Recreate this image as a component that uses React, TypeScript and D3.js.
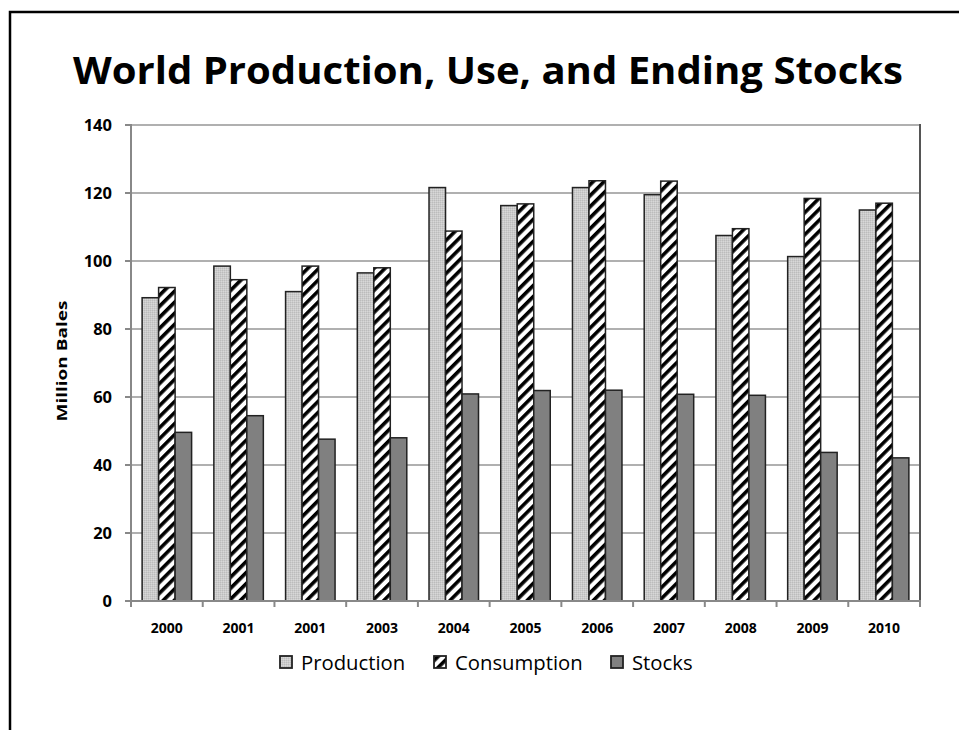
import React from "react";
import * as d3 from "d3";

const categories = ["2000", "2001", "2001", "2003", "2004", "2005", "2006", "2007", "2008", "2009", "2010"];
const production = [89.2, 98.5, 91, 96.5, 121.6, 116.3, 121.6, 119.5, 107.5, 101.3, 115];
const consumption = [92.2, 94.5, 98.5, 98, 108.8, 116.8, 123.6, 123.5, 109.5, 118.4, 117];
const stocks = [49.6, 54.5, 47.6, 48, 60.9, 61.9, 62, 60.8, 60.5, 43.7, 42.1];
const seriesNames = ["Production", "Consumption", "Stocks"];
const yTicks = [0, 20, 40, 60, 80, 100, 120, 140];

const W = 959, H = 730;
const left = 131, right = 920, top = 125, bottom = 601;
const FONT = "'Open Sans', sans-serif";

export default function App() {
  const x0 = d3.scaleBand<number>().domain(categories.map((_, i) => i)).range([left, right]).paddingInner(0.31).paddingOuter(0.155);
  const x1 = d3.scaleBand<string>().domain(seriesNames).range([0, x0.bandwidth()]);
  const y = d3.scaleLinear().domain([0, 140]).range([bottom, top]);
  const seriesData = [production, consumption, stocks];
  const fills = ["url(#prodPat)", "url(#consPat)", "#808080"];
  const boundaries = d3.range(categories.length + 1).map((i) => left + i * ((right - left) / categories.length));

  const legendItems = [
    { name: "Production", x: 280, fill: "url(#prodPat)" },
    { name: "Consumption", x: 434, fill: "url(#consPat)" },
    { name: "Stocks", x: 611, fill: "#808080" },
  ];

  return (
    <svg width={W} height={H} style={{ position: "absolute", left: 0, top: 0, background: "#fff" }}>
      <defs>
        <pattern id="prodPat" patternUnits="userSpaceOnUse" width="2" height="2">
          <rect width="2" height="2" fill="#cbcbcb" />
          <rect width="1" height="1" fill="#bcbcbc" />
          <rect x="1" y="1" width="1" height="1" fill="#d8d8d8" />
        </pattern>
        <pattern id="consPat" patternUnits="userSpaceOnUse" width="7.8" height="7.8" patternTransform="rotate(45)">
          <rect width="7.8" height="7.8" fill="#fff" />
          <rect width="3.6" height="7.8" fill="#000" />
        </pattern>
      </defs>
      <rect x={0} y={0} width={W} height={H} fill="#fff" />
      <rect x={10} y={12} width={W + 10} height={H + 10} fill="none" stroke="#000" strokeWidth={2.5} />

      <text x={488} y={84} textAnchor="middle" textLength={830} lengthAdjust="spacingAndGlyphs" fontFamily={FONT} fontWeight="bold" fontSize={38} fill="#000">
        World Production, Use, and Ending Stocks
      </text>

      {yTicks.map((t) => (
        <line key={"g" + t} x1={left} x2={right} y1={y(t)} y2={y(t)} stroke="#b0b0b0" strokeWidth={2} />
      ))}
      {yTicks.map((t) => (
        <g key={"yt" + t}>
          <line x1={left - 6} x2={left} y1={y(t)} y2={y(t)} stroke="#888" strokeWidth={2} />
          <text x={112} y={y(t) + 6} textAnchor="end" fontFamily={FONT} fontWeight="bold" fontSize={16.5} fill="#000">
            {t}
          </text>
        </g>
      ))}

      {seriesData.map((vals, si) =>
        vals.map((v, i) => (
          <rect
            key={si + "-" + i}
            x={(x0(i) as number) + (x1(seriesNames[si]) as number)}
            y={y(v)}
            width={x1.bandwidth()}
            height={y(0) - y(v)}
            fill={fills[si]}
            stroke="#222"
            strokeWidth={1.5}
          />
        ))
      )}

      <line x1={right} x2={right} y1={top - 1} y2={bottom} stroke="#555" strokeWidth={2} />
      <line x1={left} x2={left} y1={top - 1} y2={bottom + 1} stroke="#888" strokeWidth={2} />
      <line x1={left - 6} x2={right + 1} y1={bottom} y2={bottom} stroke="#888" strokeWidth={2} />
      {boundaries.map((b, i) => (
        <line key={"xt" + i} x1={b} x2={b} y1={bottom} y2={bottom + 6} stroke="#888" strokeWidth={2} />
      ))}
      {categories.map((c, i) => (
        <text key={"xl" + i} x={(x0(i) as number) + x0.bandwidth() / 2} y={633} textAnchor="middle" fontFamily={FONT} fontWeight="bold" fontSize={14} fill="#000">
          {c}
        </text>
      ))}

      <text transform={`translate(67,${361}) rotate(-90)`} textAnchor="middle" textLength={121} lengthAdjust="spacingAndGlyphs" fontFamily={FONT} fontWeight="bold" fontSize={15} fill="#000">
        Million Bales
      </text>

      {legendItems.map((it) => (
        <g key={it.name}>
          <rect x={it.x} y={656} width={12} height={12} fill={it.fill} stroke="#222" strokeWidth={1.8} />
          <text x={it.x + 21} y={670} fontFamily={FONT} fontSize={20.3} fill="#000">
            {it.name}
          </text>
        </g>
      ))}
    </svg>
  );
}
